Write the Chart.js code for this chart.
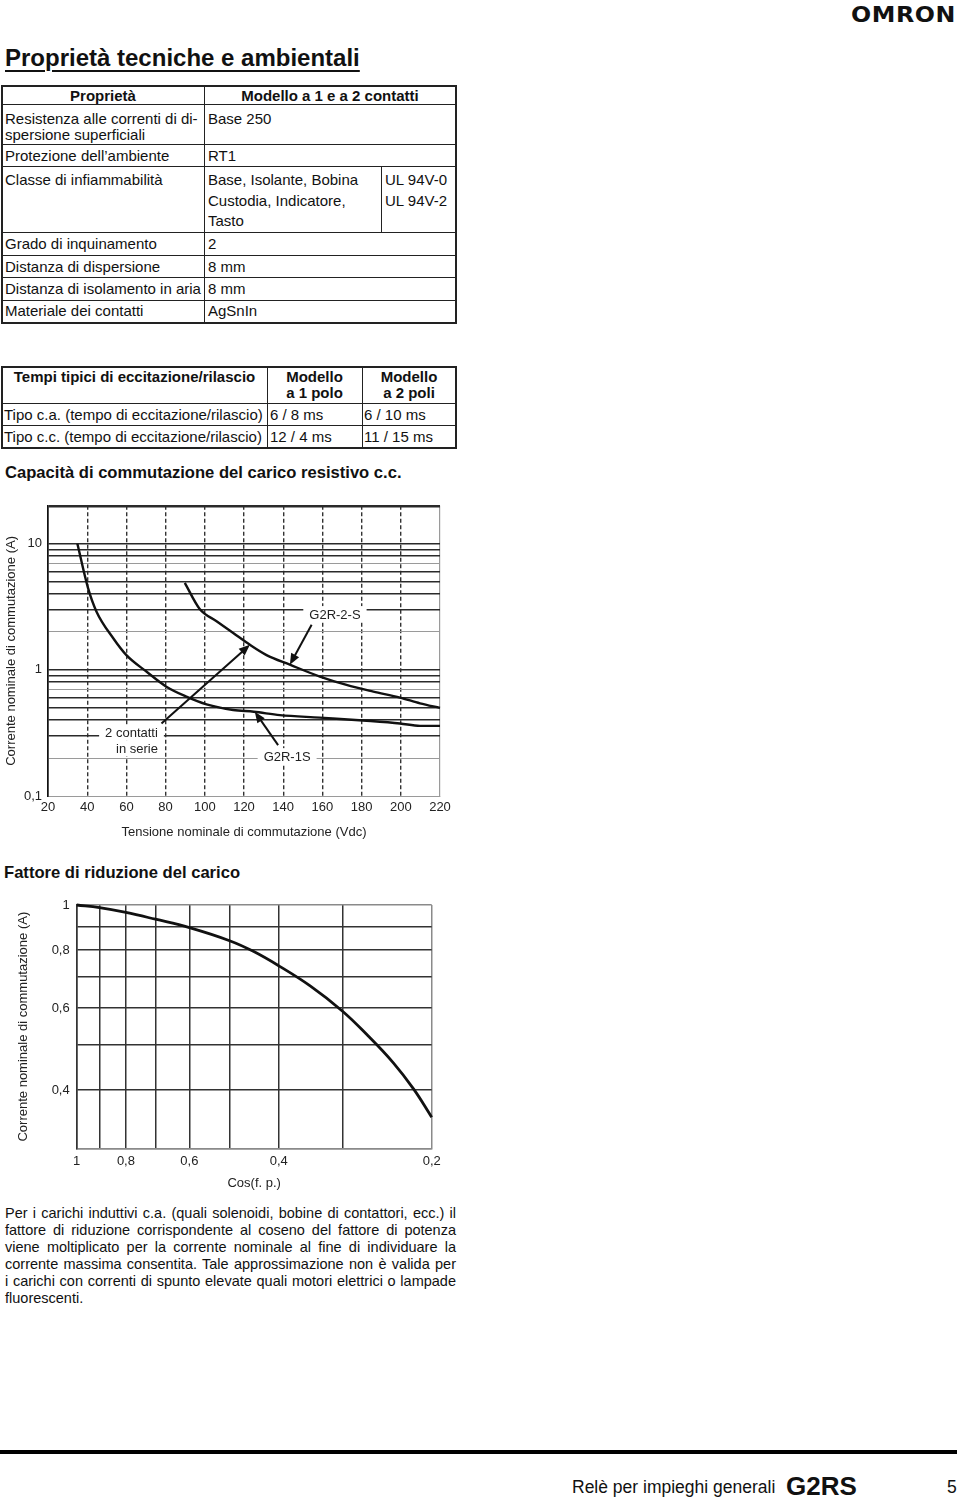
<!DOCTYPE html>
<html lang="it">
<head>
<meta charset="utf-8">
<title>G2RS – Proprietà tecniche e ambientali</title>
<script src="https://cdn.jsdelivr.net/npm/chart.js@4.4.1/dist/chart.umd.min.js"></script>
<style>
  html, body { margin: 0; padding: 0; background: #fff; }
  body { position: relative; width: 960px; height: 1503px; overflow: hidden;
         font-family: "Liberation Sans", Arial, Helvetica, sans-serif; color: #111; }
  .t { position: absolute; white-space: nowrap; font-size: 15px; line-height: 17px; }
  .b { font-weight: bold; }
  .c { text-align: center; }
  .hl { position: absolute; height: 1px; background: #222; }
  .vl { position: absolute; width: 1px; background: #222; }
  .logo { position: absolute; left: 851px; top: 3px; font: bold 21px "DejaVu Sans", sans-serif;
          letter-spacing: 0.5px; transform: scaleX(1.13); transform-origin: left top; color: #111; }
  .par { position: absolute; left: 5px; width: 451px; font-size: 14.5px; line-height: 17px;
         text-align: justify; text-align-last: justify; white-space: nowrap; }
  .par.last { text-align-last: left; }
  canvas { position: absolute; }
</style>
</head>
<body>

<div class="logo">OMRON</div>

<div class="t b" style="left:5px; top:45px; font-size:24px; line-height:26px; text-decoration:underline; text-decoration-thickness:2px; text-underline-offset:4px;">Proprietà tecniche e ambientali</div>

<!-- tabella proprietà -->
<div class="hl" style="left:2px; width:454px; top:85px; height:2px;"></div>
<div class="hl" style="left:2px; width:454px; top:104px;"></div>
<div class="hl" style="left:2px; width:454px; top:144px;"></div>
<div class="hl" style="left:2px; width:454px; top:166px;"></div>
<div class="hl" style="left:2px; width:454px; top:232px;"></div>
<div class="hl" style="left:2px; width:454px; top:255px;"></div>
<div class="hl" style="left:2px; width:454px; top:277px;"></div>
<div class="hl" style="left:2px; width:454px; top:300px;"></div>
<div class="hl" style="left:2px; width:454px; top:322px; height:2px;"></div>
<div class="vl" style="left:1px; top:85px; height:239px; width:2px;"></div>
<div class="vl" style="left:204px; top:85px; height:239px;"></div>
<div class="vl" style="left:381px; top:166px; height:66px;"></div>
<div class="vl" style="left:455px; top:85px; height:239px; width:2px;"></div>

<div class="t b c" style="left:2px; width:202px; top:87px;">Proprietà</div>
<div class="t b c" style="left:204px; width:252px; top:87px;">Modello a 1 e a 2 contatti</div>
<div class="t" style="left:5px; top:110px;">Resistenza alle correnti di di-</div>
<div class="t" style="left:5px; top:126px;">spersione superficiali</div>
<div class="t" style="left:208px; top:110px;">Base 250</div>
<div class="t" style="left:5px; top:147px;">Protezione dell’ambiente</div>
<div class="t" style="left:208px; top:147px;">RT1</div>
<div class="t" style="left:5px; top:171px;">Classe di infiammabilità</div>
<div class="t" style="left:208px; top:171px;">Base, Isolante, Bobina</div>
<div class="t" style="left:208px; top:191.5px;">Custodia, Indicatore,</div>
<div class="t" style="left:208px; top:212px;">Tasto</div>
<div class="t" style="left:385px; top:171px;">UL 94V-0</div>
<div class="t" style="left:385px; top:191.5px;">UL 94V-2</div>
<div class="t" style="left:5px; top:235px;">Grado di inquinamento</div>
<div class="t" style="left:208px; top:235px;">2</div>
<div class="t" style="left:5px; top:257.5px;">Distanza di dispersione</div>
<div class="t" style="left:208px; top:257.5px;">8 mm</div>
<div class="t" style="left:5px; top:280px;">Distanza di isolamento in aria</div>
<div class="t" style="left:208px; top:280px;">8 mm</div>
<div class="t" style="left:5px; top:302px;">Materiale dei contatti</div>
<div class="t" style="left:208px; top:302px;">AgSnIn</div>

<!-- tabella tempi -->
<div class="hl" style="left:2px; width:454px; top:366px; height:2px;"></div>
<div class="hl" style="left:2px; width:454px; top:403px;"></div>
<div class="hl" style="left:2px; width:454px; top:425px;"></div>
<div class="hl" style="left:2px; width:454px; top:447px; height:2px;"></div>
<div class="vl" style="left:1px; top:366px; height:83px; width:2px;"></div>
<div class="vl" style="left:267px; top:366px; height:83px;"></div>
<div class="vl" style="left:362px; top:366px; height:83px;"></div>
<div class="vl" style="left:455px; top:366px; height:83px; width:2px;"></div>

<div class="t b c" style="left:2px; width:265px; top:368px;">Tempi tipici di eccitazione/rilascio</div>
<div class="t b c" style="left:267px; width:95px; top:368px;">Modello</div>
<div class="t b c" style="left:267px; width:95px; top:383.5px;">a 1 polo</div>
<div class="t b c" style="left:362px; width:94px; top:368px;">Modello</div>
<div class="t b c" style="left:362px; width:94px; top:383.5px;">a 2 poli</div>
<div class="t" style="left:4px; top:405.5px;">Tipo c.a. (tempo di eccitazione/rilascio)</div>
<div class="t" style="left:270px; top:405.5px;">6 / 8 ms</div>
<div class="t" style="left:364px; top:405.5px;">6 / 10 ms</div>
<div class="t" style="left:4px; top:428px;">Tipo c.c. (tempo di eccitazione/rilascio)</div>
<div class="t" style="left:270px; top:428px;">12 / 4 ms</div>
<div class="t" style="left:364px; top:428px;">11 / 15 ms</div>

<div class="t b" style="left:5px; top:463px; font-size:16.6px; line-height:20px;">Capacità di commutazione del carico resistivo c.c.</div>
<canvas id="cc" width="460" height="352" style="left:0; top:492px; width:460px; height:352px;"></canvas>

<div class="t b" style="left:4px; top:863px; font-size:16.6px; line-height:20px;">Fattore di riduzione del carico</div>
<canvas id="fr" width="460" height="310" style="left:0; top:885px; width:460px; height:310px;"></canvas>

<div class="par" style="top:1205px;">Per i carichi induttivi c.a. (quali solenoidi, bobine di contattori, ecc.) il</div>
<div class="par" style="top:1222px;">fattore di riduzione corrispondente al coseno del fattore di potenza</div>
<div class="par" style="top:1239px;">viene moltiplicato per la corrente nominale al fine di individuare la</div>
<div class="par" style="top:1256px;">corrente massima consentita. Tale approssimazione non è valida per</div>
<div class="par" style="top:1273px;">i carichi con correnti di spunto elevate quali motori elettrici o lampade</div>
<div class="par last" style="top:1290px;">fluorescenti.</div>

<div class="hl" style="left:0; width:957px; top:1450px; height:4px; background:#000;"></div>
<div class="t" style="left:572px; top:1476px; font-size:17.5px; line-height:22px;">Relè per impieghi generali</div>
<div class="t b" style="left:786px; top:1472px; font-size:26px; line-height:28px;">G2RS</div>
<div class="t" style="left:947px; top:1476px; font-size:17.5px; line-height:22px;">5</div>

<script>
// --- Capacità di commutazione del carico resistivo c.c. ---
// curva "2 contatti in serie" / G2R-1S (tensione Vdc, corrente A)
const serieVolt = [35, 40.4, 44.7, 53.2, 60, 70.2, 80.4, 90.6, 100.9, 114.5, 125, 138.3, 158.7, 182.6, 199.6, 209.8, 220];
const serieAmp  = [10, 4.47, 2.91, 1.79, 1.31, 0.97, 0.736, 0.614, 0.533, 0.481, 0.466, 0.438, 0.418, 0.395, 0.376, 0.36, 0.36];
// curva G2R-2-S
const g2r2sVolt = [89.8, 97.4, 106, 114.5, 123, 131.5, 143.4, 158.7, 172.3, 186, 199.6, 209.8, 220];
const g2r2sAmp  = [4.9, 3.04, 2.43, 1.96, 1.58, 1.31, 1.10, 0.885, 0.76, 0.673, 0.603, 0.543, 0.50];

const voltTicks = [20, 40, 60, 80, 100, 120, 140, 160, 180, 200, 220];
const ampTicks  = [0.1, 0.2, 0.3, 0.4, 0.5, 0.6, 0.7, 0.8, 0.9, 1, 2, 3, 4, 5, 6, 7, 8, 9, 10, 20];
const ampLabels = { 0.1: '0,1', 1: '1', 10: '10' };
const ampThin   = [0.1, 0.2, 0.7, 2, 7];

// etichette e frecce (coordinate nei valori degli assi)
const ccLabels = [
  { text: 'G2R-2-S',    x: 166.4, y: 2.77 },
  { text: '2 contatti', x: 62.6,  y: 0.317 },
  { text: 'in serie',   x: 65.4,  y: 0.238 },
  { text: 'G2R-1S',     x: 142,   y: 0.207 }
];
const ccArrows = [
  { x1: 77.9,  y1: 0.376, x2: 123,   y2: 1.58 },
  { x1: 154.5, y1: 2.28,  x2: 143.4, y2: 1.10 },
  { x1: 137.4, y1: 0.253, x2: 125.5, y2: 0.466 }
];

// --- Fattore di riduzione del carico ---
const cosPhi  = [1, 0.902, 0.8, 0.7, 0.6, 0.5, 0.449, 0.4, 0.347, 0.3, 0.269, 0.238, 0.217, 0.2];
const fattore = [1, 0.987, 0.964, 0.932, 0.894, 0.838, 0.795, 0.740, 0.670, 0.592, 0.528, 0.458, 0.402, 0.35];
const cosTicks  = [1, 0.9, 0.8, 0.7, 0.6, 0.5, 0.4, 0.3, 0.2];
const cosLabels = { 1: '1', 0.8: '0,8', 0.6: '0,6', 0.4: '0,4', 0.2: '0,2' };
const fattTicks  = [0.3, 0.4, 0.5, 0.6, 0.7, 0.8, 0.9, 1];
const fattLabels = { 1: '1', 0.8: '0,8', 0.6: '0,6', 0.4: '0,4' };

const FONT = '"Liberation Sans", Arial, Helvetica, sans-serif';
Chart.defaults.font.family = FONT;
Chart.defaults.font.size = 13;
Chart.defaults.color = '#222';

const toPoints = (xs, ys) => xs.map((x, i) => ({ x: x, y: ys[i] }));
const tv = c => (c.tick ? c.tick.value : undefined);

function drawArrow(ctx, x1, y1, x2, y2) {
  const ang = Math.atan2(y2 - y1, x2 - x1);
  const len = 11, half = 4.5;
  ctx.beginPath();
  ctx.moveTo(x1, y1);
  ctx.lineTo(x2 - Math.cos(ang) * len * 0.8, y2 - Math.sin(ang) * len * 0.8);
  ctx.stroke();
  ctx.beginPath();
  ctx.moveTo(x2, y2);
  ctx.lineTo(x2 - Math.cos(ang) * len - Math.sin(ang) * half, y2 - Math.sin(ang) * len + Math.cos(ang) * half);
  ctx.lineTo(x2 - Math.cos(ang) * len + Math.sin(ang) * half, y2 - Math.sin(ang) * len - Math.cos(ang) * half);
  ctx.closePath();
  ctx.fill();
}

const notePlugin = {
  id: 'note',
  afterDatasetsDraw(chart) {
    const { ctx, scales: { x, y } } = chart;
    ctx.save();
    ctx.font = '13px ' + FONT;
    ctx.textAlign = 'center';
    ctx.textBaseline = 'middle';
    ccLabels.forEach(l => {
      const px = x.getPixelForValue(l.x), py = y.getPixelForValue(l.y);
      const w = ctx.measureText(l.text).width;
      ctx.fillStyle = '#fff';
      ctx.fillRect(px - w / 2 - 6, py - 8, w + 12, 16);
    });
    ctx.fillStyle = '#222';
    ccLabels.forEach(l => {
      ctx.fillText(l.text, x.getPixelForValue(l.x), y.getPixelForValue(l.y) + 1);
    });
    ctx.strokeStyle = '#111';
    ctx.fillStyle = '#111';
    ctx.lineWidth = 2;
    ccArrows.forEach(a => {
      drawArrow(ctx, x.getPixelForValue(a.x1), y.getPixelForValue(a.y1),
                     x.getPixelForValue(a.x2), y.getPixelForValue(a.y2));
    });
    ctx.restore();
  }
};

const curve = (pts, w, smooth) => Object.assign({
  data: pts, showLine: true, borderColor: '#111', borderWidth: w,
  pointRadius: 0, clip: false
}, smooth ? { tension: 0.4 } : { cubicInterpolationMode: 'monotone' });

new Chart(document.getElementById('cc'), {
  type: 'scatter',
  data: { datasets: [curve(toPoints(serieVolt, serieAmp), 2.4), curve(toPoints(g2r2sVolt, g2r2sAmp), 2.4)] },
  plugins: [notePlugin],
  options: {
    responsive: false, animation: false, events: [],
    layout: { padding: { top: 6, right: 20, left: 0, bottom: 0 } },
    plugins: { legend: { display: false }, tooltip: { enabled: false } },
    scales: {
      x: {
        type: 'linear', min: 20, max: 220,
        afterBuildTicks: s => { s.ticks = voltTicks.map(v => ({ value: v })); },
        afterFit: s => { s.height = 48; },
        ticks: { padding: 4, maxRotation: 0, autoSkip: false, callback: v => String(v) },
        grid: {
          drawTicks: false,
          color: c => (tv(c) === 220 ? '#9a9a9a' : '#333'),
          lineWidth: c => (tv(c) === 220 ? 1.2 : 1.4)
        },
        border: {
          display: true, color: '#9a9a9a', width: 1,
          dash: c => (tv(c) > 20 && tv(c) < 220 ? [4, 2.5] : [])
        },
        title: { display: true, text: 'Tensione nominale di commutazione (Vdc)', padding: { top: 4, bottom: 4 } }
      },
      y: {
        type: 'logarithmic', min: 0.1, max: 20,
        afterBuildTicks: s => { s.ticks = ampTicks.map(v => ({ value: v })); },
        afterFit: s => { s.width = 48; },
        ticks: { padding: 6, autoSkip: false, callback: v => ampLabels[v] || '' },
        grid: {
          drawTicks: false,
          color: c => (ampThin.includes(tv(c)) ? '#9a9a9a' : '#2a2a2a'),
          lineWidth: c => (tv(c) === 20 ? 2.4 : ampThin.includes(tv(c)) ? 1 : 1.6)
        },
        border: { display: true, color: '#111', width: 1.6 },
        title: { display: true, text: 'Corrente nominale di commutazione (A)', padding: { top: 4, bottom: 4 } }
      }
    }
  }
});

new Chart(document.getElementById('fr'), {
  type: 'scatter',
  data: { datasets: [curve(toPoints(cosPhi, fattore), 2.8, true)] },
  options: {
    responsive: false, animation: false, events: [],
    layout: { padding: { top: 20, right: 28.3, left: 11.5, bottom: 0 } },
    plugins: { legend: { display: false }, tooltip: { enabled: false } },
    scales: {
      x: {
        type: 'logarithmic', min: 0.2, max: 1, reverse: true,
        afterBuildTicks: s => { s.ticks = cosTicks.map(v => ({ value: v })); },
        afterFit: s => { s.height = 46.7; },
        ticks: { padding: 5, maxRotation: 0, autoSkip: false, callback: v => cosLabels[v] || '' },
        grid: {
          drawTicks: false,
          color: c => (tv(c) === 0.2 ? '#8a8a8a' : '#333'),
          lineWidth: 1.5
        },
        border: { display: true, color: '#8a8a8a', width: 1.5 },
        title: { display: true, text: 'Cos(f. p.)', padding: { top: 4, bottom: 4 } }
      },
      y: {
        type: 'logarithmic', min: 0.3, max: 1,
        afterBuildTicks: s => { s.ticks = fattTicks.map(v => ({ value: v })); },
        afterFit: s => { s.width = 65.2; },
        ticks: { padding: 7, autoSkip: false, callback: v => fattLabels[v] || '' },
        grid: {
          drawTicks: false,
          color: c => (tv(c) === 1 || tv(c) === 0.3 ? '#8a8a8a' : '#333'),
          lineWidth: 1.5
        },
        border: { display: true, color: '#333', width: 1.5 },
        title: { display: true, text: 'Corrente nominale di commutazione (A)', padding: { top: 4, bottom: 4 } }
      }
    }
  }
});
</script>
</body>
</html>
